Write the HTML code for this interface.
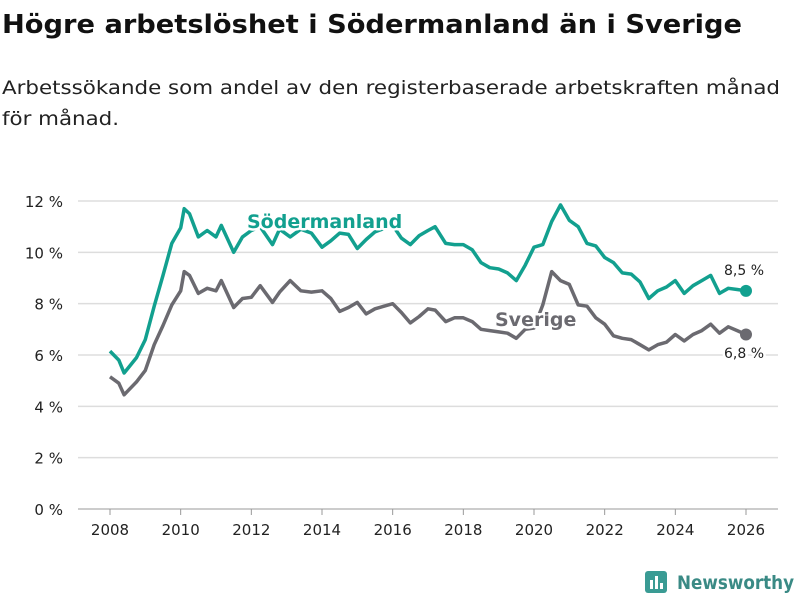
<!DOCTYPE html>
<html><head><meta charset="utf-8"><style>
body{margin:0;background:#fff;width:800px;height:600px;overflow:hidden;font-family:"DejaVu Sans","Liberation Sans",sans-serif}
</style></head><body>
<svg id="chart" width="800" height="600" xmlns="http://www.w3.org/2000/svg" font-family="DejaVu Sans, Liberation Sans, sans-serif">
<text x="2" y="33" font-size="26" font-weight="bold" fill="#111" textLength="740" lengthAdjust="spacingAndGlyphs">Högre arbetslöshet i Södermanland än i Sverige</text>
<text x="2" y="94" font-size="19" fill="#222" textLength="778" lengthAdjust="spacingAndGlyphs">Arbetssökande som andel av den registerbaserade arbetskraften månad</text>
<text x="2" y="125" font-size="19" fill="#222" textLength="117" lengthAdjust="spacingAndGlyphs">för månad.</text>
<g id="grid"></g><g id="xaxis"></g><g id="lines"></g><g id="labels"></g>
<g>
<rect x="645" y="571" width="22" height="22" rx="3" fill="#3a9b94"/>
<rect x="650" y="580" width="3" height="9" fill="#fff"/><rect x="655" y="576" width="3" height="13" fill="#fff"/><rect x="660" y="583" width="3" height="6" fill="#fff"/>
<text x="677" y="589" font-size="19" font-weight="bold" fill="#3a8a85" textLength="117" lengthAdjust="spacingAndGlyphs">Newsworthy</text>
</g>
</svg>
<script>
const dates=[2008,2008.25,2008.4,2008.75,2009,2009.25,2009.5,2009.75,2010,2010.1,2010.25,2010.5,2010.75,2011,2011.15,2011.5,2011.75,2012,2012.25,2012.6,2012.8,2013.1,2013.4,2013.7,2014,2014.25,2014.5,2014.75,2015,2015.25,2015.5,2016,2016.25,2016.5,2016.75,2017,2017.2,2017.5,2017.75,2018,2018.25,2018.5,2018.75,2019,2019.25,2019.5,2019.75,2020,2020.25,2020.5,2020.75,2021,2021.25,2021.5,2021.75,2022,2022.25,2022.5,2022.75,2023,2023.25,2023.5,2023.75,2024,2024.25,2024.5,2024.75,2025,2025.25,2025.5,2025.75,2026];
const sodermanland=[6.15,5.8,5.3,5.9,6.6,7.9,9.1,10.35,10.95,11.7,11.5,10.6,10.85,10.6,11.05,10.0,10.6,10.85,11.0,10.3,10.9,10.6,10.9,10.75,10.2,10.45,10.75,10.7,10.15,10.5,10.8,11.05,10.55,10.3,10.65,10.85,11.0,10.35,10.3,10.3,10.1,9.6,9.4,9.35,9.2,8.9,9.5,10.2,10.3,11.2,11.85,11.25,11.0,10.35,10.25,9.8,9.6,9.2,9.15,8.85,8.2,8.5,8.65,8.9,8.4,8.7,8.9,9.1,8.4,8.6,8.55,8.5];
const sverige=[5.15,4.9,4.45,4.95,5.4,6.4,7.15,7.95,8.5,9.25,9.1,8.4,8.6,8.5,8.9,7.85,8.2,8.25,8.7,8.05,8.45,8.9,8.5,8.45,8.5,8.2,7.7,7.85,8.05,7.6,7.8,8.0,7.65,7.25,7.5,7.8,7.75,7.3,7.45,7.45,7.3,7.0,6.95,6.9,6.85,6.65,7.0,7.05,7.95,9.25,8.9,8.75,7.95,7.9,7.45,7.2,6.75,6.65,6.6,6.4,6.2,6.4,6.5,6.8,6.55,6.8,6.95,7.2,6.85,7.1,6.95,6.8];
const yTicks=[0,2,4,6,8,10,12];
const xTicks=[2008,2010,2012,2014,2016,2018,2020,2022,2024,2026];
const NS="http://www.w3.org/2000/svg";
const X=d=>110+(d-2008)*(636/18);
const Y=v=>509-v*(308/12);
function mk(t,a,p,txt){const e=document.createElementNS(NS,t);for(const k in a)e.setAttribute(k,a[k]);if(txt!==undefined)e.textContent=txt;p.appendChild(e);return e;}
const grid=document.getElementById('grid');
yTicks.forEach(v=>{
 const l=mk('line',{x1:78,x2:778,y1:Y(v),y2:Y(v),stroke:v===0?'#bbb':'#ddd','stroke-width':1.5},grid);
 
 
 const t=mk('text',{x:63,y:Y(v)+6,'font-size':15,fill:'#222','text-anchor':'end'},grid,v+' %');
 
 
});
const xa=document.getElementById('xaxis');
xTicks.forEach(d=>{
 mk('line',{x1:X(d),x2:X(d),y1:509,y2:515,stroke:'#999','stroke-width':1},xa);
 const t=mk('text',{x:X(d),y:535,'font-size':15,fill:'#222','text-anchor':'middle'},xa,String(d));
 
 
});
const lines=document.getElementById('lines');
function series(vals,col,name){
 const d=vals.map((v,i)=>(i?'L':'M')+X(dates[i]).toFixed(1)+','+Y(v).toFixed(1)).join('');
 const p=mk('path',{d:d,fill:'none',stroke:col,'stroke-width':3.5,'stroke-linejoin':'round'},lines);
 
 
 const c=mk('circle',{cx:X(dates[dates.length-1]),cy:Y(vals[vals.length-1]),r:6,fill:col},lines);
 
 
}
series(sverige,'#6b6a70','sverige');
series(sodermanland,'#12a08f','sodermanland');
const lab=document.getElementById('labels');
function label(x,y,txt,col,size,bold,name){
 const t=mk('text',{x:x,y:y,'font-size':size,'font-weight':bold?'bold':'normal',fill:col,stroke:'#fff','stroke-width':5,'paint-order':'stroke','stroke-linejoin':'round'},lab,txt);
 
 
}
label(247,228,'Södermanland','#12a08f',19,true,'sodermanland-label');
label(495,326,'Sverige','#6b6a70',19,true,'sverige-label');
label(724,275,'8,5 %','#222',14,false,'sodermanland-value-label');
label(724,358,'6,8 %','#222',14,false,'sverige-value-label');
</script>
</body></html>
